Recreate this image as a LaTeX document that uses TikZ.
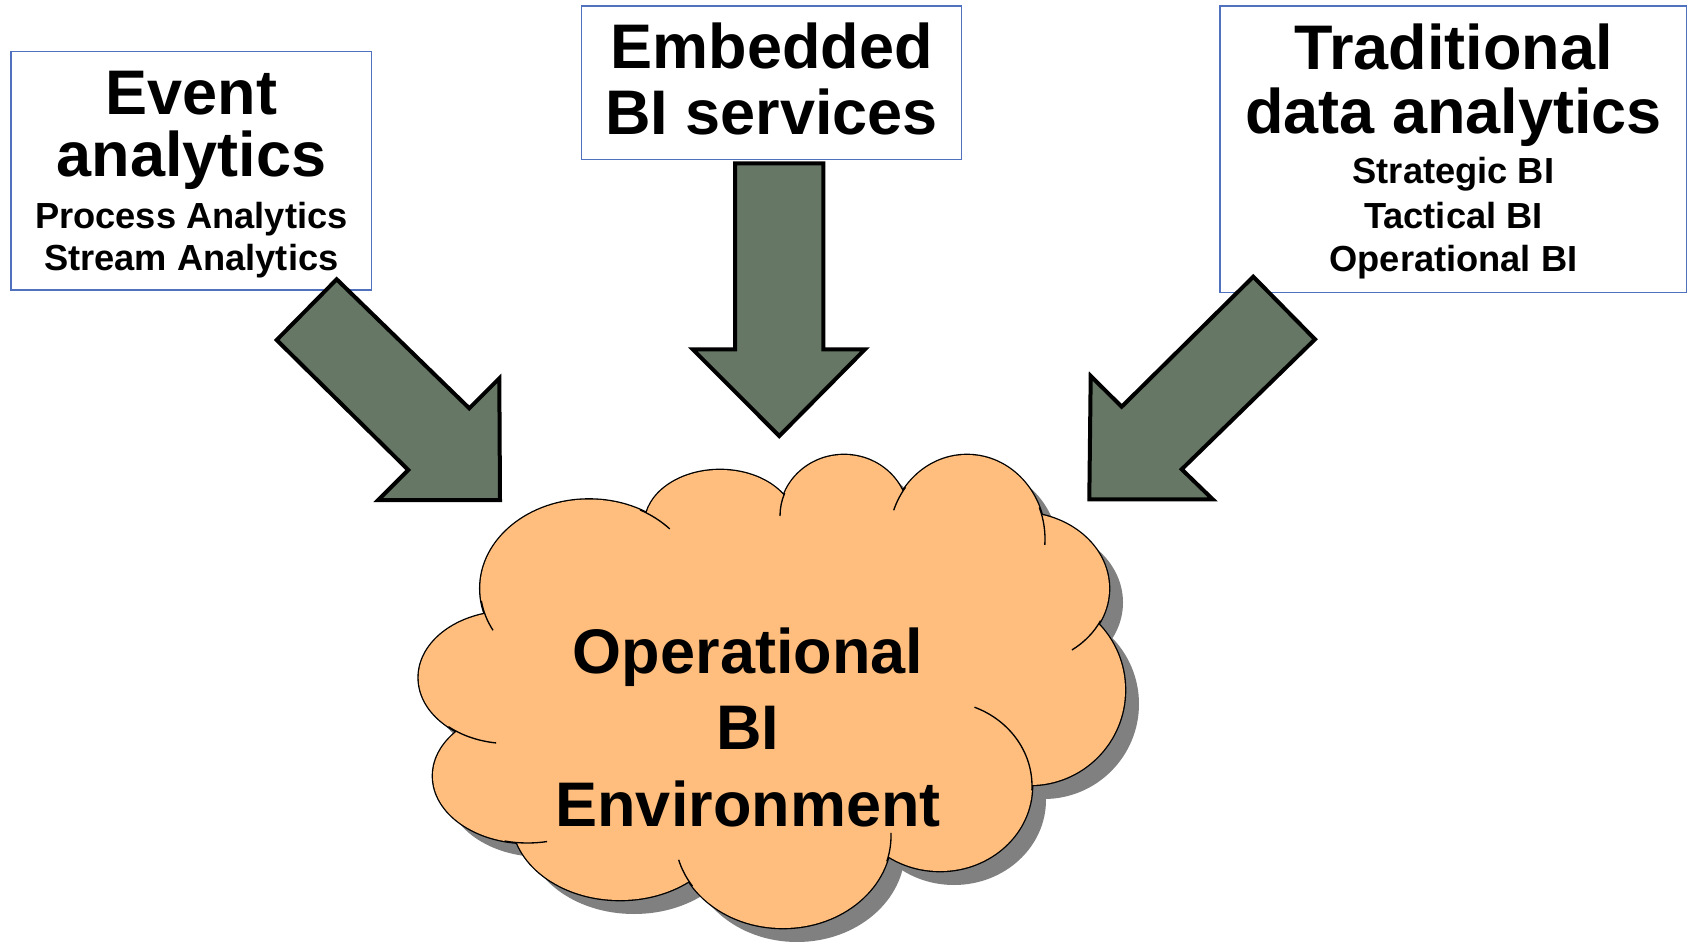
\documentclass[tikz,border=0pt]{standalone}
\usepackage{fontspec}
\setmainfont{Liberation Sans}

\definecolor{boxblue}{RGB}{79,113,190}
\definecolor{arrowgreen}{RGB}{102,120,101}
\definecolor{cloudorange}{RGB}{255,190,125}
\definecolor{cloudshadow}{RGB}{128,128,128}

\tikzset{every picture/.style={line width=0.75pt}}
\tikzset{
  infobox/.style={draw=boxblue, line width=1.1pt, fill=white, inner sep=0pt},
  bigtxt/.style={font=\fontsize{47.25}{50}\selectfont\bfseries, anchor=base, inner sep=0pt},
  smalltxt/.style={font=\fontsize{27.2}{30}\selectfont\bfseries, anchor=base, inner sep=0pt},
  blockarrow/.style={draw=black, line width=3pt, fill=arrowgreen},
  cloudline/.style={draw=black, line width=1pt}
}

% puffs of the cloud: centre x / centre y / x radius / y radius
\newcommand{\puffs}{589/588.5/108.7/89, 720/524/75/54, 844/516/64/61, 967/539/78/84,
  1019/588.5/90/76, 1030/690/95/95, 940/786/92/85, 783/836/108/92,
  620/818/108/82, 527.5/776/94.5/67, 508.7/677.6/90/66}
% inner ends of the puffs: centre / radii / start and end angle
\newcommand{\pufftails}{589/588.5/108.7/89/172/152, 508.7/677.6/90/66/132/98,
  527.5/776/94.5/67/104/78, 783/836/108/92/147/165, 783/836/108/92/16/-2,
  940/786/92/85/3/-68, 1019/588.5/90/76/25/54, 967/539/78/84/-22/4,
  967/539/78/84/218/200, 844/516/64/61/202/180, 589/588.5/108.7/89/-62/-42}

\begin{document}
\begin{tikzpicture}[x=0.75pt,y=0.75pt,yscale=-1,xscale=1]
\useasboundingbox (0,0) rectangle (1693,942);

%Boxes
\node [infobox, minimum width=270.5pt, minimum height=178.7pt] (evbox) at (191.4,170.9) {};
\node [infobox, minimum width=285pt, minimum height=115pt] (embox) at (771.7,82.7) {};
\node [infobox, minimum width=350pt, minimum height=215pt] (trbox) at (1453.4,149.4) {};

%Block arrows
\draw [blockarrow] (336.7,279.3) -- (469.3,408.3) -- (499.3,378.3) -- (500,500) -- (378.3,500) -- (408.3,470) -- (276.7,340) -- cycle ;
\draw [blockarrow] (735,163.3) -- (823.3,163.3) -- (823.3,349.3) -- (865,349.3) -- (779.3,436) -- (692.7,349.3) -- (735,349.3) -- cycle ;
\draw [blockarrow] (1253.3,276.7) -- (1315,339.3) -- (1181.7,469.3) -- (1212.7,499.3) -- (1089.3,499.3) -- (1090.7,376) -- (1121.7,406.7) -- cycle ;

%Cloud shadow
\foreach \cx/\cy/\rx/\ry in \puffs
  \fill [cloudshadow] (\cx+14,\cy+14) ellipse [x radius=\rx, y radius=\ry];
\fill [cloudshadow, shift={(14,14)}] (589,588.5) -- (720,524) -- (844,516) -- (967,539) -- (1019,588.5) -- (1030,690) -- (940,786) -- (783,836) -- (620,818) -- (527.5,776) -- (508.7,677.6) -- cycle ;

%Cloud
\foreach \cx/\cy/\rx/\ry in \puffs
  \draw [black, line width=2pt] (\cx,\cy) ellipse [x radius=\rx, y radius=\ry];
\foreach \cx/\cy/\rx/\ry in \puffs
  \fill [cloudorange] (\cx,\cy) ellipse [x radius=\rx, y radius=\ry];
\fill [cloudorange] (589,588.5) -- (720,524) -- (844,516) -- (967,539) -- (1019,588.5) -- (1030,690) -- (940,786) -- (783,836) -- (620,818) -- (527.5,776) -- (508.7,677.6) -- cycle ;
\foreach \cx/\cy/\rx/\ry/\a/\b in \pufftails
  \draw [cloudline] (\cx,\cy) ++(\a:{\rx} and {\ry}) arc [start angle=\a, end angle=\b, x radius=\rx, y radius=\ry];

% Text Node
\node [bigtxt] (ev1) at (191.4,115) {Event};
\node [bigtxt] (ev2) at (191.4,176.7) {analytics};
\node [smalltxt] (ev3) at (191.4,228) {Process Analytics};
\node [smalltxt] (ev4) at (191.4,270) {Stream Analytics};
% Text Node
\node [bigtxt] (em1) at (771.7,68.3) {Embedded};
\node [bigtxt] (em2) at (771.7,135) {BI services};
% Text Node
\node [bigtxt] (tr1) at (1453.4,70) {Traditional};
\node [bigtxt] (tr2) at (1453.4,133.3) {data analytics};
\node [smalltxt] (tr3) at (1453.4,183.3) {Strategic BI};
\node [smalltxt] (tr4) at (1453.4,228.3) {Tactical BI};
\node [smalltxt] (tr5) at (1453.4,271.7) {Operational BI};
% Text Node
\node [bigtxt] (op1) at (748,673.3) {Operational};
\node [bigtxt] (op2) at (748,749.3) {BI};
\node [bigtxt] (op3) at (748,826.7) {Environment};

\end{tikzpicture}
\end{document}
